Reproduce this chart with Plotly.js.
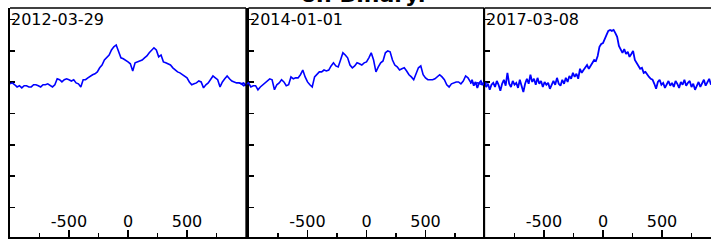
<!DOCTYPE html>
<html>
<head>
<meta charset="utf-8">
<script src="https://cdn.plot.ly/plotly-3.0.1.min.js"></script>
<style>html,body{margin:0;padding:0;background:#fff;}#chart{width:711px;height:240px;}</style>
</head>
<body>
<div id="chart"></div>
<script>
// ---- data ----
const chartTitle = 'on Binary.';
const dates = ['2012-03-29', '2014-01-01', '2017-03-08'];
const xTickVals = [-500, 0, 500];
const xTickText = ['-500', '0', '500'];

const vel1 = [-1000,-980,-960,-940,-920,-900,-880,-860,-840,-820,-800,-780,-760,-740,-720,-700,-680,-660,-640,-620,
  -600,-580,-560,-540,-520,-500,-480,-460,-440,-420,-400,-380,-360,-340,-320,-300,-280,-260,-240,-220,
  -200,-180,-160,-140,-120,-100,-80,-60,-40,-20,0,20,40,60,80,100,120,140,160,180,
  200,220,240,260,280,300,320,340,360,380,400,420,440,460,480,500,520,540,560,580,
  600,620,640,660,680,700,720,740,760,780,800,820,840,860,880,900,920,940,960,980,1000];
const prof1 = [4.95,4.98,4.92,4.85,4.89,4.82,4.89,4.89,4.85,4.85,4.92,4.92,4.89,4.85,4.92,4.92,4.95,4.89,4.85,4.92,
  5.11,5.08,5.01,5.08,5.11,5.08,5.04,5.08,4.98,4.95,4.85,5.08,5.08,5.14,5.20,5.24,5.27,5.33,5.46,5.55,
  5.71,5.78,5.87,6.03,6.13,6.19,5.97,5.78,5.75,5.71,5.65,5.59,5.36,5.62,5.65,5.68,5.71,5.78,5.84,5.94,
  6.03,6.10,6.03,5.81,5.87,5.65,5.62,5.59,5.55,5.46,5.39,5.33,5.30,5.24,5.17,5.14,5.01,4.92,4.95,4.98,
  5.04,5.01,4.82,4.92,4.98,5.08,5.20,5.14,5.08,4.85,5.01,5.11,5.20,5.11,5.04,5.01,4.98,4.98,4.95,4.98,4.89];

const vel2 = [-1080,-1060,-1040,-1020,-1000,-980,-960,-940,-920,-900,-880,-860,-840,-820,-800,-780,-760,-740,-720,-700,
  -680,-660,-640,-620,-600,-580,-560,-540,-520,-500,-480,-460,-440,-420,-400,-380,-360,-340,-320,-300,
  -280,-260,-240,-220,-200,-180,-160,-140,-120,-100,-80,-60,-40,-20,0,20,40,60,80,100,
  120,140,160,180,200,220,240,260,280,300,320,340,360,380,400,420,440,460,480,500,
  520,540,560,580,600,620,640,660,680,700,720,740,760,780,800,820,840,860,880,900,
  920,940,960,980,1000,1020];
const prof2 = [4.98,4.95,4.89,4.95,4.98,4.85,4.89,4.89,4.76,4.85,4.92,4.98,5.04,5.11,5.08,4.76,4.92,4.98,5.08,5.01,
  4.89,4.92,5.17,5.11,5.14,5.14,5.24,5.39,5.17,5.01,4.92,4.85,5.17,5.24,5.33,5.33,5.39,5.36,5.39,5.52,
  5.62,5.52,5.49,5.71,5.94,5.87,5.78,5.55,5.46,5.52,5.62,5.59,5.55,5.62,5.65,5.78,5.94,5.71,5.33,5.49,
  5.62,5.68,5.94,6.00,5.97,5.71,5.55,5.49,5.39,5.43,5.46,5.36,5.24,5.17,5.08,5.27,5.46,5.52,5.24,5.14,
  5.08,5.08,5.08,5.11,5.17,5.24,5.17,5.08,4.92,4.85,4.95,4.98,5.01,5.01,4.95,5.04,5.20,5.14,5.01,4.98,
  4.95,4.98,4.95,4.92,4.95,4.98];

const vel3 = [-1125,-1110,-1095,-1080,-1065,-1050,-1035,-1020,-1005,-990,-975,-960,-945,-930,-915,-900,-885,-870,-855,-840,
  -825,-810,-795,-780,-765,-750,-735,-720,-705,-690,-675,-660,-645,-630,-615,-600,-585,-570,-555,-540,
  -525,-510,-495,-480,-465,-450,-435,-420,-405,-390,-375,-360,-345,-330,-315,-300,-285,-270,-255,-240,
  -225,-210,-195,-180,-165,-150,-135,-120,-105,-90,-75,-60,-45,-30,-15,0,15,30,45,60,
  75,90,105,120,135,150,165,180,195,210,225,240,255,270,285,300,315,330,345,360,
  375,390,405,420,435,450,465,480,495,510,525,540,555,570,585,600,615,630,645,660,
  675,690,705,720,735,750,765,780,795,810,825,840,855,870,885,900,915];
const prof3 = [4.95,5.08,4.89,5.01,4.82,4.98,5.04,4.92,5.01,4.85,4.95,4.76,4.92,4.98,4.85,5.04,4.92,4.73,4.95,5.08,
  4.89,5.30,4.95,4.85,5.04,4.92,4.98,4.82,5.08,4.89,4.69,4.95,5.11,4.95,5.24,5.01,5.11,4.92,5.14,4.95,
  5.04,4.85,5.01,4.92,4.98,4.79,4.95,5.04,4.92,5.14,4.95,4.89,5.08,4.95,5.14,5.01,5.20,5.11,5.30,5.17,
  5.27,5.11,5.43,5.30,5.39,5.46,5.55,5.43,5.52,5.65,5.71,5.68,5.84,6.13,6.22,6.25,6.41,6.51,6.64,6.67,
  6.64,6.67,6.57,6.45,6.16,6.03,5.94,6.06,5.90,5.97,5.81,5.90,6.00,5.71,5.62,5.55,5.43,5.46,5.30,5.33,
  5.24,5.17,5.11,5.08,4.95,4.79,5.01,5.08,4.92,4.98,4.82,4.95,5.04,4.89,4.98,4.85,5.04,4.95,4.82,5.01,
  4.92,5.08,4.89,4.98,5.04,4.85,4.95,4.76,4.92,5.01,4.85,4.95,5.08,4.89,4.98,5.11,4.92];

// ---- layout geometry ----
const FONT = 'DejaVu Sans';
const yRange = [0.06, 7.37];
const frameDomains = [[0, 0.33666], [0.34023, 0.67689], [0.67760, 1]];
const frameRanges = [[-1000, 1000], [-1000, 1000], [-1000, 915.3]];
const dataDomains = [[0, 0.33951], [0.32668, 0.68331], [0.65621, 1]];
const dataRanges = [[-1000, 1016.9], [-1080.5, 1038.1], [-1127.1, 915.3]];

function frameX(i) {
  return {
    domain: frameDomains[i], range: frameRanges[i], anchor: i === 0 ? 'y' : 'y' + (i + 1),
    showline: true, linecolor: '#000', linewidth: 2, mirror: false,
    ticks: 'inside', ticklen: 7, tickwidth: 1.5, tickcolor: '#000',
    tickmode: 'array', tickvals: xTickVals, ticktext: xTickText,
    ticklabelposition: 'inside',
    tickfont: {family: FONT, size: 16, color: '#000'},
    minor: {ticks: 'inside', dtick: 250, tick0: 0, ticklen: 4, tickwidth: 1.5, tickcolor: '#000', showgrid: false},
    showgrid: false, zeroline: false, fixedrange: true
  };
}
function frameY(i) {
  return {
    domain: [0, 1], range: yRange, anchor: i === 0 ? 'x' : 'x' + (i + 1),
    showline: true, linecolor: '#000', linewidth: 2.2, mirror: false,
    ticks: 'inside', ticklen: 5, tickwidth: 1.5, tickcolor: '#000',
    tickmode: 'linear', tick0: 0, dtick: 1, showticklabels: false,
    showgrid: false, zeroline: false, fixedrange: true
  };
}
function dataX(i) {
  return {domain: dataDomains[i], range: dataRanges[i], anchor: 'y' + (i + 4), visible: false, fixedrange: true};
}
function dataY(i) {
  return {domain: [0, 1], range: yRange, anchor: 'x' + (i + 4), visible: false, fixedrange: true};
}

const vels = [vel1, vel2, vel3];
const profs = [prof1, prof2, prof3];
const traces = [];
// empty traces so that the three framed subplots exist
for (let i = 0; i < 3; i++) {
  const s = i === 0 ? '' : String(i + 1);
  traces.push({type: 'scatter', mode: 'lines', x: [], y: [], xaxis: 'x' + s, yaxis: 'y' + s,
    hoverinfo: 'skip', showlegend: false});
}
vels.forEach((v, i) => traces.push({
  type: 'scatter', mode: 'lines', x: v, y: profs[i],
  xaxis: 'x' + (i + 4), yaxis: 'y' + (i + 4),
  line: {color: '#0000ff', width: i === 2 ? 1.8 : 1.6},
  hoverinfo: 'skip', showlegend: false
}));

const layout = {
  width: 711, height: 240,
  margin: {l: 10, r: 0, t: 8, b: 3, pad: 0},
  paper_bgcolor: '#fff', plot_bgcolor: 'rgba(0,0,0,0)',
  showlegend: false,
  annotations: [],
  shapes: []
};
for (let i = 0; i < 3; i++) {
  const s = i === 0 ? '' : String(i + 1);
  layout['xaxis' + s] = frameX(i);
  layout['yaxis' + s] = frameY(i);
  layout['xaxis' + (i + 4)] = dataX(i);
  layout['yaxis' + (i + 4)] = dataY(i);
  layout.annotations.push({
    xref: 'x' + s + ' domain', yref: 'y' + s + ' domain', x: 0, y: 1,
    xanchor: 'left', yanchor: 'top', showarrow: false, text: dates[i],
    font: {family: FONT, size: 16, color: '#000'}, borderpad: 0, yshift: -1
  });
  layout.shapes.push({type: 'line', xref: 'x' + s + ' domain', yref: 'y' + s + ' domain',
    x0: 0, x1: 1, y0: 1, y1: 1, line: {color: '#000', width: 1.3}});
  if (i < 2) {
    layout.shapes.push({type: 'line', xref: 'x' + s + ' domain', yref: 'y' + s + ' domain',
      x0: 1, x1: 1, y0: 0, y1: 1, line: {color: '#000', width: 1.3}});
  }
}
layout.annotations.push({
  xref: 'paper', yref: 'paper', x: 0.5036, y: 1, xanchor: 'center', yanchor: 'bottom',
  showarrow: false, text: chartTitle, yshift: 0, borderpad: 0,
  font: {family: FONT, size: 22, color: '#000', weight: 'bold'}
});

Plotly.newPlot('chart', traces, layout, {staticPlot: true, displayModeBar: false});
</script>
</body>
</html>
